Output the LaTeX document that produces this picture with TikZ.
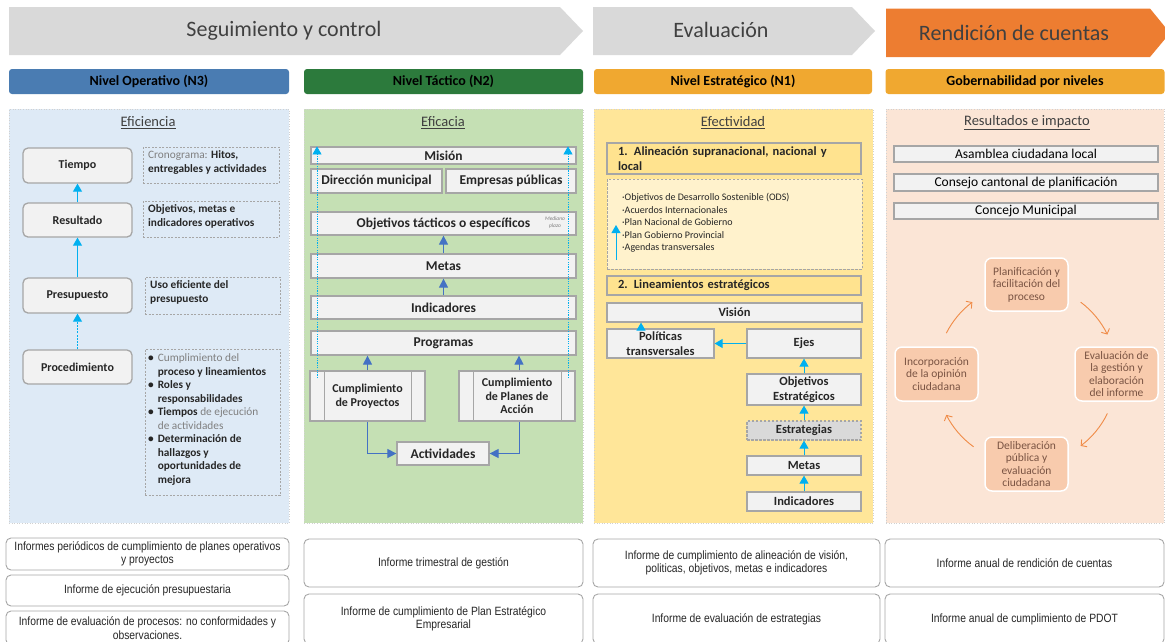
\documentclass[tikz,border=0pt]{standalone}
\usepackage{fontspec}
\setmainfont{Carlito}
\newfontfamily\narrowfont[FakeStretch=0.86]{Liberation Sans}
\usetikzlibrary{arrows.meta,calc}
\definecolor{chgray}{HTML}{D9D9D9}
\definecolor{chorange}{HTML}{ED7D31}
\definecolor{lvblue}{HTML}{4A7CB2}
\definecolor{lvgreen}{HTML}{2C7A3C}
\definecolor{lvorange}{HTML}{F0A830}
\definecolor{pblue}{HTML}{DEEAF6}
\definecolor{pgreen}{HTML}{C5E0B4}
\definecolor{pyellow}{HTML}{FFE699}
\definecolor{ppeach}{HTML}{FBE5D6}
\definecolor{bfill}{HTML}{F2F2F2}
\definecolor{bline}{HTML}{A6A6A6}
\definecolor{cyanar}{HTML}{00B0F0}
\definecolor{bluear}{HTML}{4472C4}
\definecolor{txt}{HTML}{262626}
\definecolor{gtxt}{HTML}{7F7F7F}
\definecolor{hdtxt}{HTML}{404040}
\definecolor{ylbox}{HTML}{FFE38F}
\definecolor{ylight}{HTML}{FFF2CC}
\definecolor{cycfill}{HTML}{F8CBAD}
\definecolor{cyctxt}{HTML}{7A5443}
\definecolor{cycar}{HTML}{F08B47}
\definecolor{estr}{HTML}{D9D9D9}
\tikzset{
 panel/.style={draw=black!18, dotted, line width=0.6pt, inner sep=0},
 lvl/.style={rounded corners=3pt, inner sep=0, font=\bfseries\fontsize{14}{16}\selectfont, text=black, minimum height=25pt},
 chevtext/.style={font=\fontsize{22}{25}\selectfont, text=hdtxt, inner sep=0},
 sub/.style={font=\fontsize{14.5}{16}\selectfont, text=hdtxt, inner sep=0},
 rbox/.style={draw=bline, line width=1.3pt, fill=bfill, rounded corners=5pt, inner sep=0, font=\bfseries\fontsize{12}{14}\selectfont, text=txt, minimum width=109pt},
 note/.style={draw=bline, dash pattern=on 2pt off 1.5pt, line width=0.6pt, inner sep=0},
 notetext/.style={inner sep=0, align=left, anchor=north west, text=txt, font=\bfseries\fontsize{11.3}{13.5}\selectfont},
 sbox/.style={draw=bline, line width=1.2pt, fill=bfill, inner sep=0, font=\bfseries\fontsize{12.5}{14}\selectfont, text=txt, align=center},
 tbox/.style={sbox, font=\bfseries\fontsize{13.5}{15}\selectfont},
 ybox/.style={draw=bline, line width=1.2pt, fill=ylbox, inner xsep=11pt, inner ysep=0, text width=232pt, align=left, font=\bfseries\fontsize{12.5}{15}\selectfont, text=txt},
 cyc/.style={draw=white, line width=1.5pt, fill=cycfill, rounded corners=7pt, inner sep=0, align=center, text=cyctxt, font=\fontsize{11.5}{12.5}\selectfont, minimum width=83pt, minimum height=54pt},
 gbox/.style={draw=bline, line width=1.2pt, fill=bfill, inner sep=0, font=\fontsize{13.5}{15}\selectfont, text=black, minimum width=264pt},
 rep/.style={draw=bline, line width=0.9pt, fill=white, rounded corners=5pt, inner sep=0, align=center, font=\narrowfont\fontsize{12}{13.5}\selectfont, text=txt},
 cyarr/.style={cyanar, line width=1pt, -{Triangle[width=9pt,length=8pt]}},
 blarr/.style={bluear, line width=1pt, -{Triangle[width=9pt,length=9pt]}},
 orarr/.style={cycar, line width=0.9pt, -{Straight Barb[length=4pt,width=9pt]}},
}
\newcommand{\gr}[1]{\textcolor{gtxt}{\mdseries #1}}
\begin{document}
\begin{tikzpicture}[x=1pt,y=-1pt]
\useasboundingbox (0,0) rectangle (1165,641);
% ---------- chevrons
\fill[chgray] (9,7) -- (560,7) -- (583,31) -- (560,55) -- (9,55) -- cycle;
\fill[chgray] (593,7) -- (852,7) -- (875,31) -- (852,55) -- (593,55) -- cycle;
\fill[chorange] (886,8.5) -- (1150,8.5) -- (1170,33) -- (1150,57) -- (886,57) -- cycle;
\node[chevtext] (seg) at (284,31) {Seguimiento y control};
\node[chevtext] (eva) at (721,30) {Evaluación};
\node[chevtext] (ren) at (1014,33) {Rendición de cuentas};
% ---------- level bars
\node[lvl, fill=lvblue, minimum width=280pt] (n3) at (149,81.5) {Nivel Operativo (N3)};
\node[lvl, fill=lvgreen, minimum width=279pt] (n2) at (443.5,81.5) {Nivel Táctico (N2)};
\node[lvl, fill=lvorange, minimum width=278pt] (n1) at (733,81.5) {Nivel Estratégico (N1)};
\node[lvl, fill=lvorange, minimum width=279pt] (gob) at (1025,81.5) {Gobernabilidad por niveles};
% ---------- panels
\node[panel, fill=pblue, minimum width=280pt, minimum height=414pt] (p1) at (149,316) {};
\node[panel, fill=pgreen, minimum width=279pt, minimum height=414pt] (p2) at (443.5,316) {};
\node[panel, fill=pyellow, minimum width=279pt, minimum height=414pt] (p3) at (733.5,316) {};
\node[panel, fill=ppeach, minimum width=278pt, minimum height=414pt] (p4) at (1025,316) {};
% ---------- column 1
\node[sub] (efi) at (148,123) {\underline{Eficiencia}};
\node[rbox, minimum height=35pt] (tie) at (77.5,165.5) {Tiempo};
\node[rbox, minimum height=34pt] (res) at (77.5,220) {Resultado};
\node[rbox, minimum height=35pt] (pre) at (77.5,295.5) {Presupuesto};
\node[rbox, minimum height=34pt] (pro) at (77.5,367) {Procedimiento};
\draw[cyarr] (res) -- (tie);
\draw[cyarr] (pre) -- (res);
\draw[cyarr, dash pattern=on 2pt off 1.2pt] (pro) -- (pre);
\node[note, minimum width=136pt, minimum height=36pt] (cronb) at (211,165) {};
\node[notetext] (cront) at (148,150.5) {\gr{Cronograma:} Hitos,\\entregables y actividades};
\node[note, minimum width=136pt, minimum height=36pt] (objb) at (211,219) {};
\node[notetext] (objt) at (148,204.5) {Objetivos, metas e\\indicadores operativos};
\node[note, minimum width=135pt, minimum height=37pt] (usob) at (212.5,295.5) {};
\node[notetext] (usot) at (150,280.5) {Uso eficiente del\\presupuesto};
\node[note, minimum width=135pt, minimum height=146pt] (lstb) at (212.5,422) {};
\node[notetext] (lstt) at (148,352) {%
\begin{tabular}{@{}l@{\hspace{4pt}}l@{}}
\textbullet & \gr{Cumplimiento del}\\
 & proceso y lineamientos\\
\textbullet & Roles y\\
 & responsabilidades\\
\textbullet & Tiempos \gr{de ejecución}\\
 & \gr{de actividades}\\
\textbullet & Determinación de\\
 & hallazgos y\\
 & oportunidades de\\
 & mejora
\end{tabular}};
% ---------- column 2
\node[sub] (efc) at (443,123) {\underline{Eficacia}};
\node[tbox, minimum width=265pt, minimum height=17pt] (mis) at (443.5,155.5) {Misión};
\node[tbox, minimum width=131pt, minimum height=24pt] (dir) at (376.5,181) {Dirección municipal};
\node[tbox, minimum width=130pt, minimum height=24pt] (emp) at (511,181) {Empresas públicas};
\node[tbox, minimum width=265pt, minimum height=23pt] (objt2) at (443.5,223.5) {Objetivos tácticos o específicos};
\node[inner sep=0, align=center, text=gtxt, font=\itshape\fontsize{5.5}{7}\selectfont] (med) at (555,223) {Mediano\\plazo};
\node[tbox, minimum width=265pt, minimum height=24pt] (met2) at (443.5,266) {Metas};
\node[tbox, minimum width=265pt, minimum height=23pt] (ind2) at (443.5,307.5) {Indicadores};
\node[tbox, minimum width=265pt, minimum height=24pt] (prg) at (443.5,343) {Programas};
\node[sbox, minimum width=115pt, minimum height=50pt, font=\bfseries\fontsize{12}{13.5}\selectfont] (cpy) at (367.5,396) {Cumplimiento\\de Proyectos};
\node[sbox, minimum width=116pt, minimum height=50pt, font=\bfseries\fontsize{12}{13.5}\selectfont] (cpl) at (517,396) {Cumplimiento\\de Planes de\\Acción};
\draw[bline, line width=1.2pt] ([xshift=15pt]cpy.north west) -- ([xshift=15pt]cpy.south west)
  ([xshift=-14pt]cpy.north east) -- ([xshift=-14pt]cpy.south east)
  ([xshift=15pt]cpl.north west) -- ([xshift=15pt]cpl.south west)
  ([xshift=-14pt]cpl.north east) -- ([xshift=-14pt]cpl.south east);
\node[tbox, minimum width=92pt, minimum height=23pt] (act) at (443,453.5) {Actividades};
\draw[blarr] (met2) -- (objt2);
\draw[blarr] (ind2) -- (met2);
\draw[blarr] (cpy.north) -- (cpy.north |- prg.south);
\draw[blarr] ([xshift=2pt]cpl.north) -- ([xshift=2pt]cpl.north |- prg.south);
\draw[blarr] (cpy.south) |- (act.west);
\draw[blarr] ([xshift=2pt]cpl.south) |- (act.east);
\coordinate (dl1) at (317,378);
\coordinate (dl2) at (568,378);
\draw[cyarr, line width=0.8pt, dash pattern=on 1.2pt off 1.2pt] (dl1) -- (dl1 |- mis.north);
\draw[cyarr, line width=0.8pt, dash pattern=on 1.2pt off 1.2pt] (dl2) -- (dl2 |- mis.north);
% ---------- column 3
\node[sub] (efe) at (733,123) {\underline{Efectividad}};
\node[ybox, minimum height=31pt] (ali) at (734,158.5) {1. Alineación supranacional, nacional y\\local};
\node[draw=bline, fill=ylight, dash pattern=on 2.5pt off 1.5pt, line width=0.9pt, inner sep=0, minimum width=255pt, minimum height=90pt] (aldb) at (734.5,224) {};
\node[inner sep=0, anchor=north west, align=left, text=txt, font=\fontsize{10}{12.5}\selectfont] (alt) at (622,193) {%
\textperiodcentered Objetivos de Desarrollo Sostenible (ODS)\\
\textperiodcentered Acuerdos Internacionales\\
\textperiodcentered Plan Nacional de Gobierno\\
\textperiodcentered Plan Gobierno Provincial\\
\textperiodcentered Agendas transversales};
\coordinate (al1) at (616,260);
\coordinate (al2) at (616,225);
\draw[cyarr] (al1) -- (al2);
\node[ybox, minimum height=19pt] (lin) at (734,285.5) {2. Lineamientos estratégicos};
\node[sbox, minimum width=255pt, minimum height=19pt] (vis) at (734.5,312.5) {Visión};
\node[sbox, minimum width=107pt, minimum height=29pt, font=\bfseries\fontsize{12.5}{15}\selectfont] (pol) at (660.5,343.5) {Políticas\\transversales};
\node[sbox, minimum width=114pt, minimum height=29pt] (eje) at (804,343.5) {Ejes};
\node[sbox, minimum width=114pt, minimum height=31pt, font=\bfseries\fontsize{12.5}{15}\selectfont] (oes) at (804,389.5) {Objetivos\\Estratégicos};
\node[sbox, fill=estr, draw=bline, dash pattern=on 2.5pt off 1.5pt, minimum width=114pt, minimum height=19pt] (est) at (804,430.5) {Estrategias};
\node[sbox, minimum width=114pt, minimum height=19pt] (met3) at (804,465.5) {Metas};
\node[sbox, minimum width=114pt, minimum height=19pt] (ind3) at (804,501.5) {Indicadores};
\draw[cyarr] (ind3) -- (met3);
\draw[cyarr] (met3) -- (est);
\draw[cyarr] (est) -- (oes);
\draw[cyarr] (oes) -- (eje);
\draw[cyarr] (eje) -- (pol);
\draw[cyarr] ([xshift=-19.5pt]pol.north) -- ([xshift=-19.5pt]pol.north |- vis.south);
% ---------- column 4
\node[sub] (rei) at (1027,123) {\underline{Resultados e impacto}};
\node[gbox, minimum height=16pt] (asa) at (1026,154) {Asamblea ciudadana local};
\node[gbox, minimum height=17pt] (cca) at (1026,182.5) {Consejo cantonal de planificación};
\node[gbox, minimum height=16pt] (cmu) at (1026,211) {Concejo Municipal};
\node[cyc, minimum height=53pt] (pla) at (1026.5,284.5) {Planificación y\\facilitación del\\proceso};
\node[cyc] (evg) at (1116.5,374) {Evaluación de\\la gestión y\\elaboración\\del informe};
\node[cyc] (del) at (1026.5,464) {Deliberación\\pública y\\evaluación\\ciudadana};
\node[cyc] (inc) at (936.5,374) {Incorporación\\de la opinión\\ciudadana};
\coordinate (cyc) at (1026.5,374);
\coordinate (a1) at ($(cyc)+(-53:90)$);
\coordinate (a2) at ($(cyc)+(26:90)$);
\coordinate (a3) at ($(cyc)+(126:90)$);
\coordinate (a4) at ($(cyc)+(207:90)$);
\draw[orarr] (a1) arc[start angle=-53, end angle=-26, radius=90];
\draw[orarr] (a2) arc[start angle=26, end angle=53, radius=90];
\draw[orarr] (a3) arc[start angle=126, end angle=153, radius=90];
\draw[orarr] (a4) arc[start angle=207, end angle=233, radius=90];
% ---------- reports
\node[rep, minimum width=283pt, minimum height=32pt] (r1) at (147.5,554) {Informes periódicos de cumplimiento de planes operativos\\y proyectos};
\node[rep, minimum width=283pt, minimum height=31pt] (r2) at (147.5,590.5) {Informe de ejecución presupuestaria};
\node[rep, minimum width=283pt, minimum height=34pt] (r3) at (147.5,628) {Informe de evaluación de procesos: no conformidades y\\observaciones.};
\node[rep, minimum width=279pt, minimum height=48pt] (r4) at (443.5,563) {Informe trimestral de gestión};
\node[rep, minimum width=279pt, minimum height=50pt] (r5) at (443.5,619) {Informe de cumplimiento de Plan Estratégico\\Empresarial};
\node[rep, minimum width=287pt, minimum height=48pt] (r6) at (736.5,563) {Informe de cumplimiento de alineación de visión,\\politicas, objetivos, metas e indicadores};
\node[rep, minimum width=287pt, minimum height=50pt] (r7) at (736.5,619) {Informe de evaluación de estrategias};
\node[rep, minimum width=279pt, minimum height=48pt] (r8) at (1024.5,563) {Informe anual de rendición de cuentas};
\node[rep, minimum width=279pt, minimum height=50pt] (r9) at (1024.5,619) {Informe anual de cumplimiento de PDOT};
\end{tikzpicture}
\end{document}
